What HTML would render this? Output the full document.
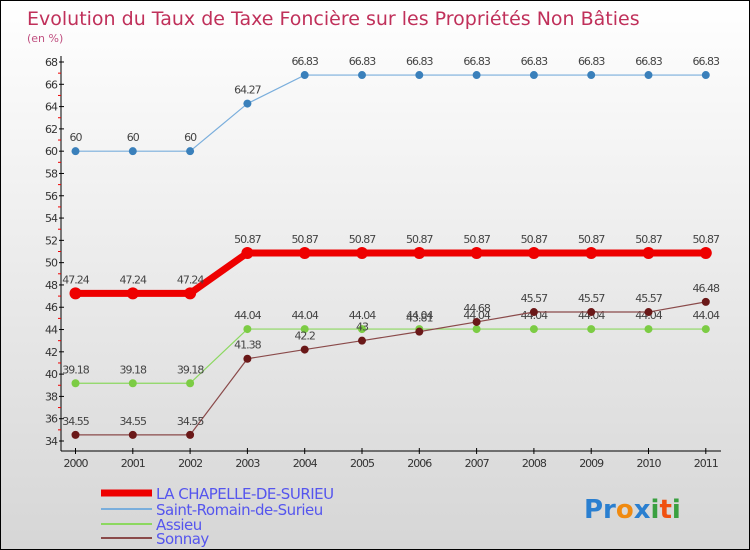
<!DOCTYPE html>
<html><head><meta charset="utf-8"><style>
body{margin:0}
#c{width:748px;height:548px;border:1px solid #000;background:linear-gradient(#fff,#d6d6d6);position:relative;overflow:hidden;font-family:"DejaVu Sans","Liberation Sans",sans-serif}
</style></head><body>
<div id="c">
<svg id="s" width="748" height="548" style="position:absolute;left:0;top:0"></svg>
</div>
<script>
const years=["2000","2001","2002","2003","2004","2005","2006","2007","2008","2009","2010","2011"];
const chapelle=[47.24,47.24,47.24,50.87,50.87,50.87,50.87,50.87,50.87,50.87,50.87,50.87];
const romain=[60,60,60,64.27,66.83,66.83,66.83,66.83,66.83,66.83,66.83,66.83];
const assieu=[39.18,39.18,39.18,44.04,44.04,44.04,44.04,44.04,44.04,44.04,44.04,44.04];
const sonnay=[34.55,34.55,34.55,41.38,42.2,43,43.81,44.68,45.57,45.57,45.57,46.48];
const yTicks=[34,36,38,40,42,44,46,48,50,52,54,56,58,60,62,64,66,68];
const s=document.getElementById('s');const NS='http://www.w3.org/2000/svg';
function X(i){return 74.5+i*57.3}
function Y(v){return 440-(v-34)*(379/34)}
function el(t,a,p){const e=document.createElementNS(NS,t);for(const k in a)e.setAttribute(k,a[k]);(p||s).appendChild(e);return e}
function txt(x,y,str,a,name){const e=el('text',Object.assign({x:x,y:y},a));e.textContent=str;return e}
txt(26,24,"Evolution du Taux de Taxe Foncière sur les Propriétés Non Bâties",{'font-size':19,fill:'#c0305a'},'chart-title');
txt(26,41,"(en %)",{'font-size':11,fill:'#c05080'},'y-unit');
let ax=el('line',{x1:60,y1:55,x2:60,y2:450,stroke:'#000'});
let bx=el('line',{x1:60,y1:450,x2:720,y2:450,stroke:'#000'});
yTicks.forEach((v,i)=>{el('line',{x1:58,x2:63,y1:Y(v),y2:Y(v),stroke:'#000'});
 if(i<yTicks.length-1)el('line',{x1:57,x2:60,y1:Y(v+1),y2:Y(v+1),stroke:'#e00'});
 txt(56,Y(v)+4,String(v),{'font-size':11,fill:'#333','text-anchor':'end','letter-spacing':'-1'},'y-tick-label');});
years.forEach((y,i)=>{el('line',{x1:X(i),x2:X(i),y1:447,y2:453,stroke:'#000'});txt(X(i),466,y,{'font-size':11,fill:'#333','text-anchor':'middle','letter-spacing':'-1'},'x-tick-label');});
function series(d,col,w,r,fill,name){
 const g=el('g',{});
 el('polyline',{points:d.map((v,i)=>X(i)+','+Y(v)).join(' '),fill:'none',stroke:col,'stroke-width':w},g);
 d.forEach((v,i)=>{const c=el('circle',{cx:X(i),cy:Y(v),r:r,fill:fill},g);
  txt(X(i),Y(v)-10,String(v),{'font-size':11,fill:'#444','text-anchor':'middle','letter-spacing':'-1'},name+'-label');});
}
series(romain,'#7aaedc',1.2,4,'#3a80bb','series-saint-romain');
series(assieu,'#8cd860',1.2,4,'#7ccc44','series-assieu');
series(sonnay,'#8a4a4a',1.2,4,'#6a1818','series-sonnay');
series(chapelle,'#ee0000',7,6,'#ee0000','series-chapelle');
const leg=[["LA CHAPELLE-DE-SURIEU",'#ee0000',7,492],["Saint-Romain-de-Surieu",'#7aaedc',2,508],["Assieu",'#8cd860',2,523],["Sonnay",'#8a4a4a',2,537]];
leg.forEach(l=>{const g=el('g',{});
 el('line',{x1:100,x2:151,y1:l[3],y2:l[3],stroke:l[1],'stroke-width':l[2]},g);
 const t=el('text',{x:155,y:l[3]+6,'font-size':15,fill:'#5555ee','letter-spacing':'-0.5'},g);t.textContent=l[0];});
const logo=el('text',{x:583,y:517,'font-size':26,'font-weight':'bold','font-family':'DejaVu Sans, sans-serif'});
[["Pr",'#2a7fd0'],["o",'#f08a10'],["x",'#2a7fd0'],["i",'#3aa040'],["t",'#f05010'],["i",'#3aa040']].forEach(p=>{const t=el('tspan',{fill:p[1]},logo);t.textContent=p[0];});
</script>
</body></html>
